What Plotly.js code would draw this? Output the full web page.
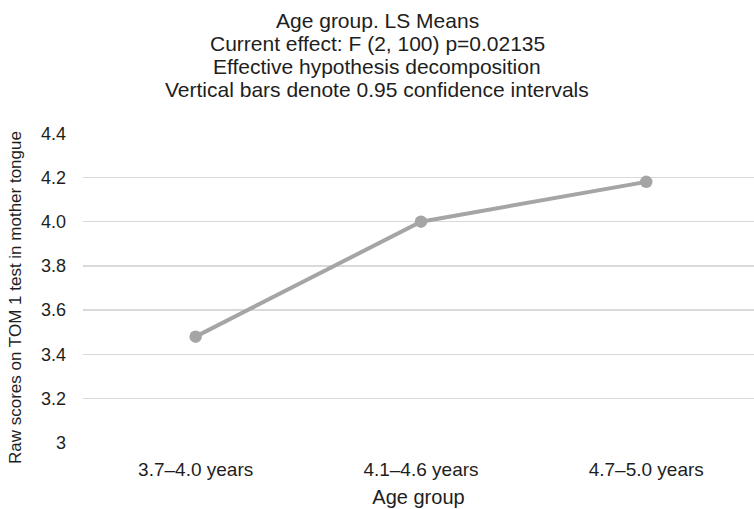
<!DOCTYPE html>
<html>
<head>
<meta charset="utf-8">
<script src="https://cdn.plot.ly/plotly-3.0.1.min.js"></script>
<style>
  html, body { margin: 0; padding: 0; background: #ffffff; }
  #chart { width: 754px; height: 509px; }
</style>
</head>
<body>
<div id="chart"></div>
<script>
// LS means of the TOM 1 raw score for each age group
const ageGroups = ['3.7–4.0 years', '4.1–4.6 years', '4.7–5.0 years'];
const lsMeans = [3.48, 4.0, 4.18];

const yTickValues = [3, 3.2, 3.4, 3.6, 3.8, 4.0, 4.2, 4.4];
const yTickLabels = ['3', '3.2', '3.4', '3.6', '3.8', '4.0', '4.2', '4.4'];

const titleLines = [
  'Age group. LS Means',
  'Current effect: F (2, 100) p=0.02135',
  'Effective hypothesis decomposition',
  'Vertical bars denote 0.95 confidence intervals'
];

const W = 754, H = 509;
const M = { l: 83, r: 0, t: 133, b: 66 };
const plotW = W - M.l - M.r;
const plotH = H - M.t - M.b;
const FONT = '"Liberation Sans", Arial, Helvetica, sans-serif';
const INK = '#1e1e1e';

// helpers converting page pixels to paper coordinates
const px = x => (x - M.l) / plotW;
const py = y => (H - M.b - y) / plotH;

const annotations = titleLines.map((line, i) => ({
  text: line,
  xref: 'paper', yref: 'paper',
  x: px(377), y: py(20 + i * 23.3),
  xanchor: 'center', yanchor: 'middle',
  showarrow: false,
  font: { family: FONT, size: 21, color: INK }
}));

annotations.push({
  text: 'Raw scores on TOM 1 test in mother tongue',
  xref: 'paper', yref: 'paper',
  x: px(15.5), y: py(297.5),
  xanchor: 'center', yanchor: 'middle',
  textangle: -90,
  showarrow: false,
  font: { family: FONT, size: 17, color: INK }
});

const trace = {
  type: 'scatter',
  mode: 'lines+markers',
  x: ageGroups,
  y: lsMeans,
  line: { color: '#a5a5a5', width: 4 },
  marker: { color: '#a5a5a5', size: 12.5 },
  hoverinfo: 'x+y'
};

const layout = {
  width: W, height: H,
  margin: M,
  paper_bgcolor: '#ffffff',
  plot_bgcolor: '#ffffff',
  showlegend: false,
  font: { family: FONT, color: INK },
  xaxis: {
    type: 'category',
    range: [-0.5, -0.5 + plotW / 225.3],
    showgrid: false,
    zeroline: false,
    showline: false,
    ticks: '',
    ticklabelstandoff: 13,
    tickfont: { family: FONT, size: 19, color: INK },
    title: { text: 'Age group', font: { family: FONT, size: 20, color: INK }, standoff: 10 }
  },
  yaxis: {
    range: [2.999, 4.401],
    tickmode: 'array',
    tickvals: yTickValues,
    ticktext: yTickLabels,
    showgrid: true,
    gridcolor: '#d9d9d9',
    gridwidth: 1.3,
    zeroline: false,
    showline: false,
    ticks: '',
    ticklabelstandoff: 16,
    tickfont: { family: FONT, size: 18, color: INK }
  },
  annotations: annotations
};

Plotly.newPlot('chart', [trace], layout, { displayModeBar: false, staticPlot: true });
</script>
</body>
</html>
